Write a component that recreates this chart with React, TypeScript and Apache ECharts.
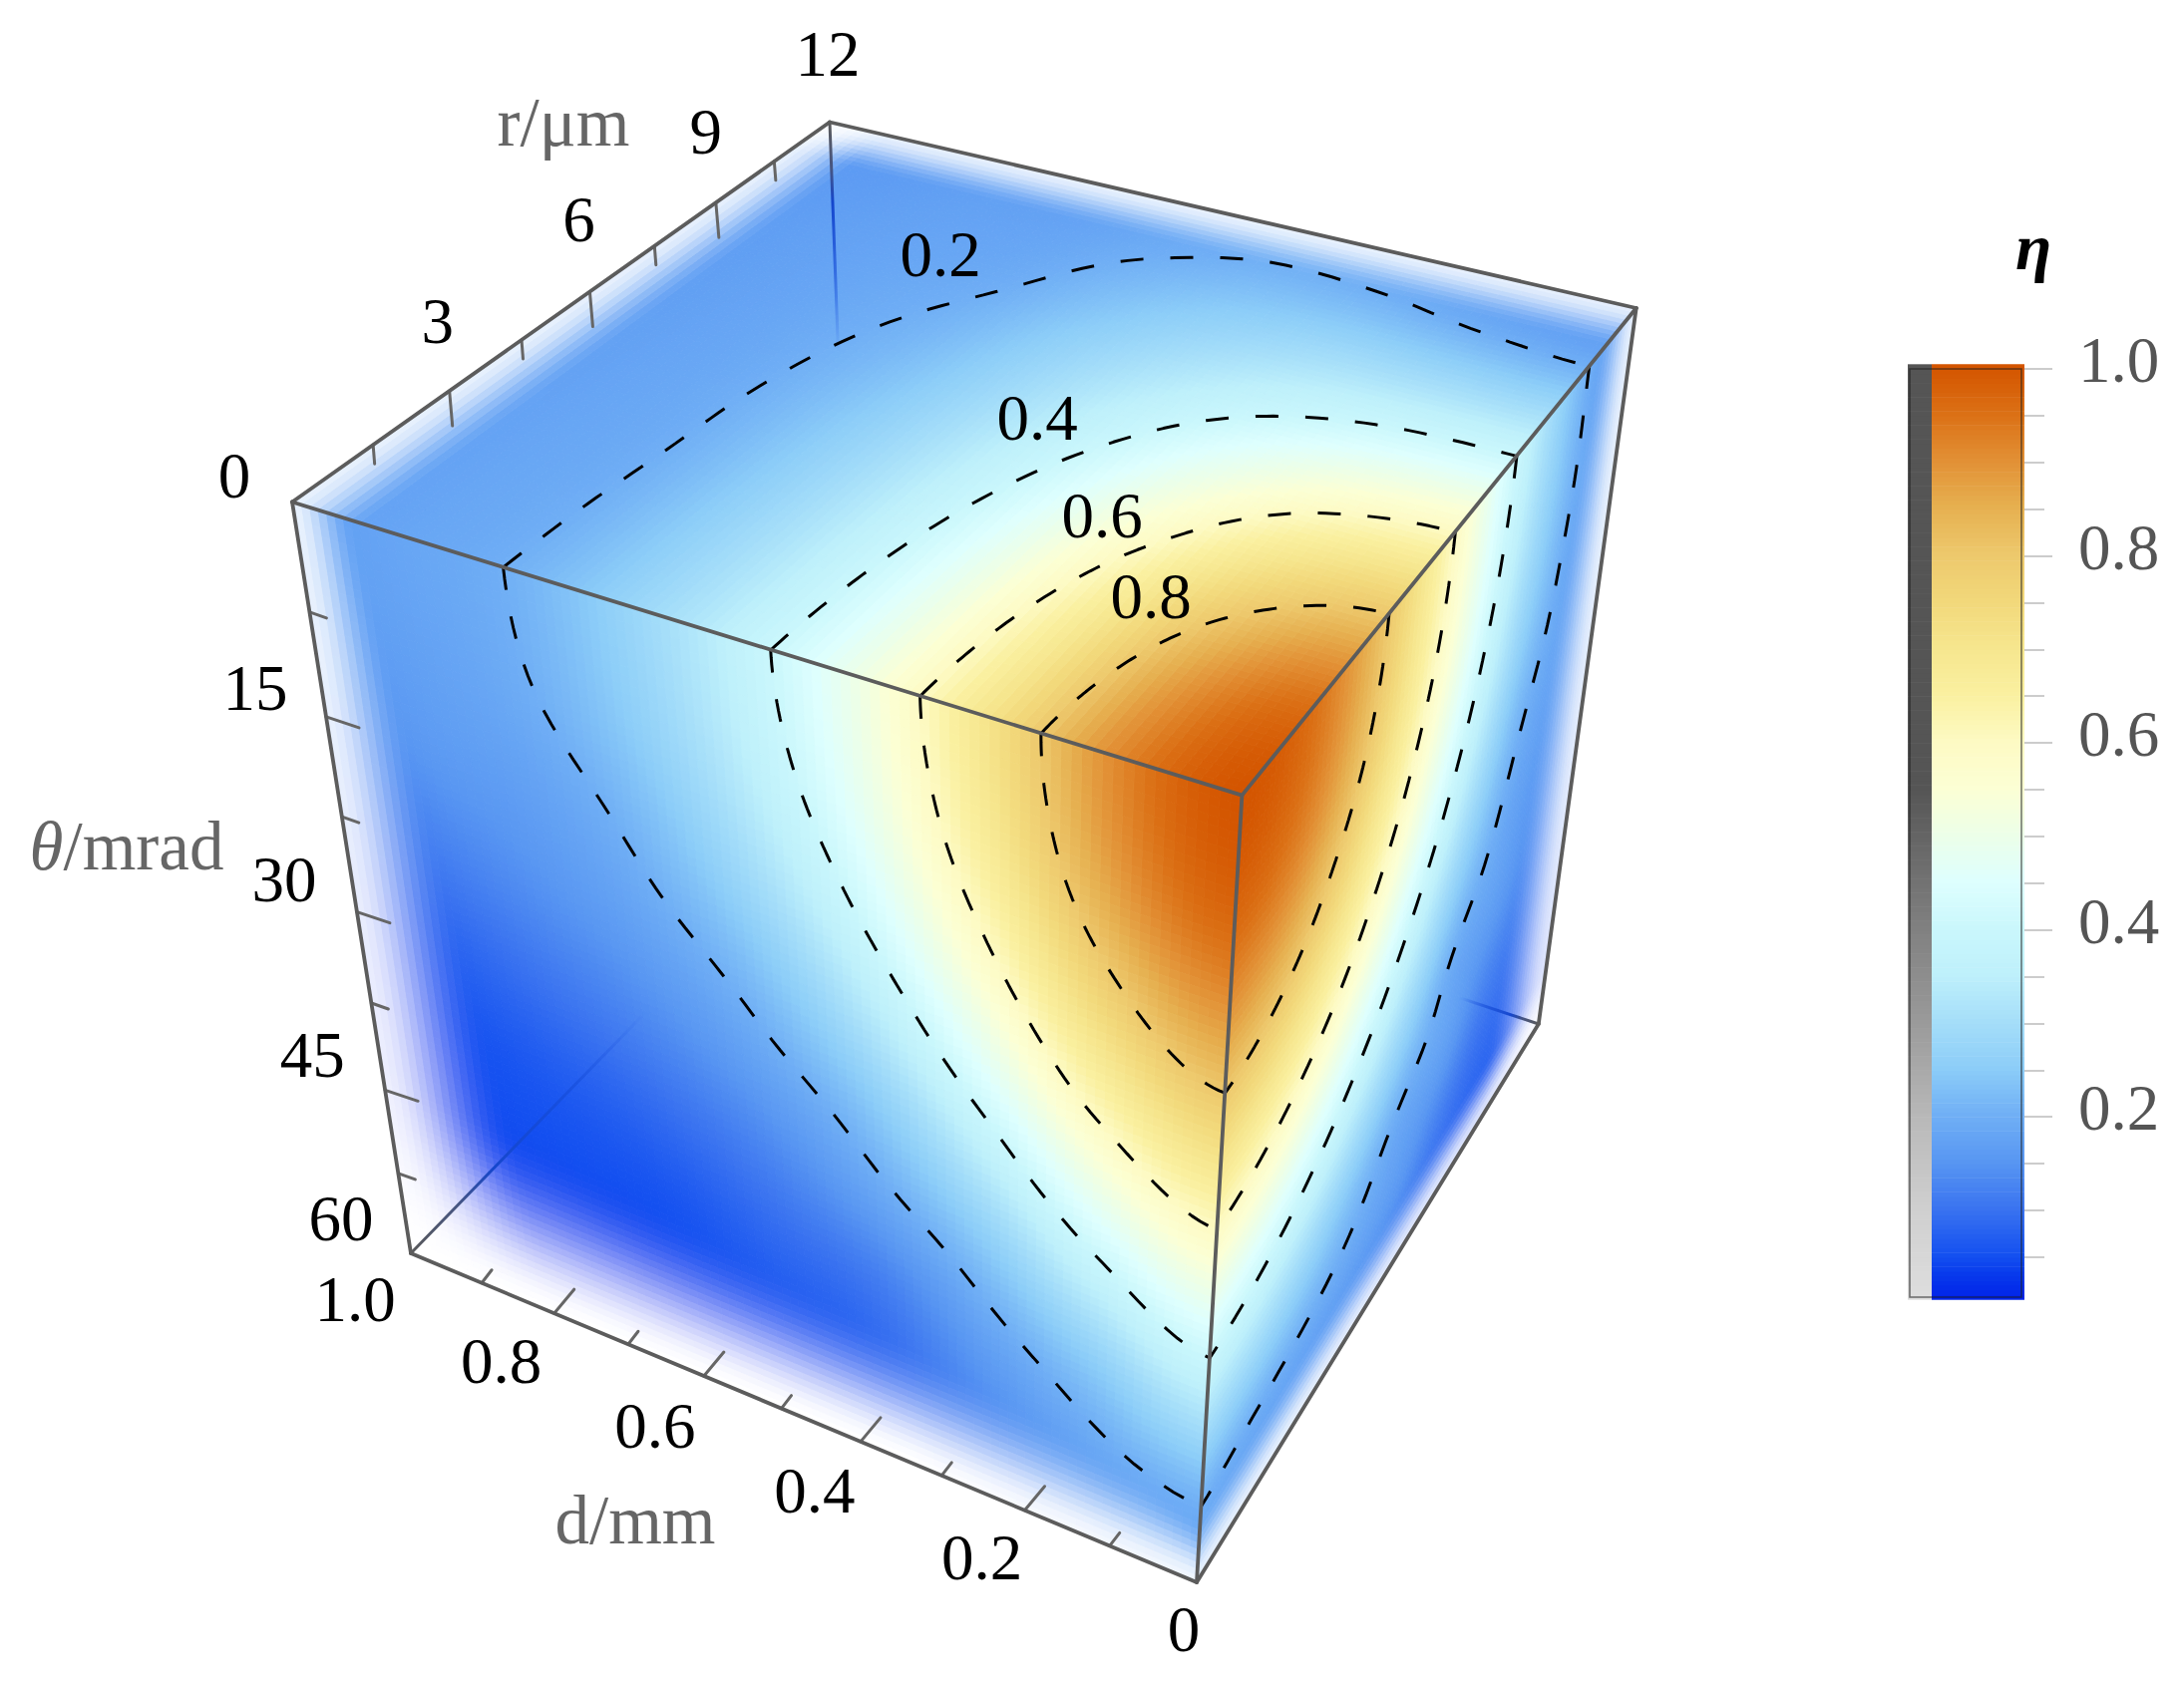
import React, { useEffect, useRef } from "react";
import * as echarts from "echarts";

type P = [number, number];

// ---- Cube corners on the picture plane (layout of the projected box)
const cornerFront: P = [1245.4, 797.6];   // d=0, r=0, θ=0
const cornerLeft: P = [293, 503.5];       // d=1, r=0, θ=0
const cornerRight: P = [1640.7, 309];     // d=0, r=12, θ=0
const cornerBack: P = [832, 122.5];       // d=1, r=12, θ=0
const cornerBotFront: P = [1200, 1587];   // d=0, r=0, θ=60
const cornerBotLeft: P = [412, 1257];     // d=1, r=0, θ=60
const cornerBotRight: P = [1542.8, 1027]; // d=0, r=12, θ=60
const cornerHidden: P = [857, 800];       // d=1, r=12, θ=60

// ---- η read off the picture on each visible face, on a 9x9 lattice of
// the face's normalised axes
// top face θ=0: rows d = 0 … 1, columns r = 0 … 12
const etaTop = [
  [1.0, 0.966, 0.871, 0.732, 0.574, 0.42, 0.287, 0.186, 0.145],
  [0.901, 0.873, 0.795, 0.68, 0.547, 0.413, 0.293, 0.197, 0.15],
  [0.694, 0.677, 0.63, 0.559, 0.472, 0.38, 0.292, 0.213, 0.162],
  [0.502, 0.493, 0.468, 0.429, 0.38, 0.325, 0.268, 0.214, 0.172],
  [0.362, 0.357, 0.344, 0.323, 0.296, 0.265, 0.23, 0.197, 0.172],
  [0.266, 0.264, 0.256, 0.245, 0.229, 0.211, 0.192, 0.178, 0.165],
  [0.201, 0.2, 0.197, 0.195, 0.191, 0.186, 0.18, 0.172, 0.16],
  [0.18, 0.18, 0.179, 0.177, 0.174, 0.171, 0.168, 0.162, 0.155],
  [0.166, 0.165, 0.165, 0.164, 0.162, 0.16, 0.158, 0.155, 0.15],
];
// left face r=0: rows d = 0 … 1, columns θ = 0 … 60
const etaLeft = [
  [1.0, 0.969, 0.88, 0.751, 0.6, 0.451, 0.317, 0.205, 0.165],
  [0.901, 0.869, 0.779, 0.651, 0.505, 0.365, 0.245, 0.178, 0.13],
  [0.694, 0.666, 0.59, 0.482, 0.363, 0.253, 0.178, 0.13, 0.09],
  [0.502, 0.48, 0.42, 0.335, 0.245, 0.178, 0.11, 0.08, 0.07],
  [0.362, 0.345, 0.298, 0.233, 0.178, 0.125, 0.082, 0.055, 0.05],
  [0.266, 0.252, 0.215, 0.178, 0.135, 0.09, 0.055, 0.045, 0.042],
  [0.201, 0.195, 0.172, 0.145, 0.105, 0.068, 0.048, 0.043, 0.04],
  [0.18, 0.172, 0.155, 0.118, 0.078, 0.052, 0.045, 0.042, 0.04],
  [0.166, 0.16, 0.125, 0.09, 0.062, 0.048, 0.043, 0.04, 0.04],
];
// right face d=0: rows r = 0 … 12, columns θ = 0 … 60
const etaRight = [
  [1.0, 0.969, 0.88, 0.751, 0.6, 0.451, 0.317, 0.205, 0.165],
  [0.966, 0.936, 0.85, 0.725, 0.58, 0.436, 0.306, 0.198, 0.16],
  [0.871, 0.844, 0.766, 0.654, 0.523, 0.393, 0.276, 0.19, 0.15],
  [0.732, 0.709, 0.644, 0.55, 0.439, 0.33, 0.232, 0.178, 0.125],
  [0.574, 0.556, 0.505, 0.431, 0.344, 0.259, 0.19, 0.158, 0.095],
  [0.42, 0.407, 0.37, 0.315, 0.252, 0.192, 0.17, 0.118, 0.082],
  [0.287, 0.278, 0.253, 0.216, 0.188, 0.168, 0.125, 0.09, 0.075],
  [0.186, 0.188, 0.18, 0.172, 0.155, 0.135, 0.108, 0.085, 0.07],
  [0.145, 0.155, 0.15, 0.14, 0.125, 0.11, 0.09, 0.07, 0.06],
];

const contourLevels = [0.2, 0.4, 0.6, 0.8];
const contourLabels = ["0.2", "0.4", "0.6", "0.8"];

// ---- Axis ticks
const rTicks = [1.5, 3, 4.5, 6, 7.5, 9, 10.5];
const rMajor = [3, 6, 9];
const rLabels = [3, 6, 9, 12];
const thetaTicks = [7.5, 15, 22.5, 30, 37.5, 45, 52.5];
const thetaMajor = [15, 30, 45];
const thetaLabels = [0, 15, 30, 45, 60];
const dTicks = [0.1, 0.2, 0.3, 0.4, 0.5, 0.6, 0.7, 0.8, 0.9];
const dMajor = [0.2, 0.4, 0.6, 0.8];
const dLabels = ["0", "0.2", "0.4", "0.6", "0.8", "1.0"];

// ---- Colour bar
const barMajor = [0.2, 0.4, 0.6, 0.8, 1.0];
const barMinor = [0.05, 0.1, 0.15, 0.25, 0.3, 0.35, 0.45, 0.5, 0.55, 0.65, 0.7, 0.75, 0.85, 0.9, 0.95];
const colorStops: [number, number[]][] = [
  [0.0, [0, 32, 232]],
  [0.03, [8, 58, 236]],
  [0.05, [20, 80, 240]],
  [0.1, [58, 115, 240]],
  [0.15, [88, 150, 242]],
  [0.2, [112, 175, 245]],
  [0.25, [140, 205, 248]],
  [0.3, [165, 222, 249]],
  [0.35, [190, 240, 251]],
  [0.4, [202, 247, 252]],
  [0.45, [222, 255, 254]],
  [0.5, [236, 255, 232]],
  [0.55, [252, 255, 212]],
  [0.6, [253, 250, 195]],
  [0.65, [250, 240, 160]],
  [0.7, [246, 230, 142]],
  [0.75, [242, 216, 122]],
  [0.8, [237, 200, 108]],
  [0.85, [230, 176, 80]],
  [0.9, [226, 144, 53]],
  [0.95, [219, 112, 21]],
  [1.0, [212, 85, 0]],
];
const alphaStops: [number, number][] = [
  [0.0, 222],
  [0.1, 207],
  [0.2, 184],
  [0.3, 154],
  [0.4, 128],
  [0.5, 100],
  [0.55, 85],
  [1.0, 85],
];

const SERIF = '"Liberation Serif", "Times New Roman", serif';
const CELLS = 100;

function homography(p00: P, p10: P, p01: P, p11: P) {
  const sx = p00[0] - p10[0] + p11[0] - p01[0];
  const sy = p00[1] - p10[1] + p11[1] - p01[1];
  const dx1 = p10[0] - p11[0];
  const dx2 = p01[0] - p11[0];
  const dy1 = p10[1] - p11[1];
  const dy2 = p01[1] - p11[1];
  const det = dx1 * dy2 - dx2 * dy1;
  const g = (sx * dy2 - dx2 * sy) / det;
  const h = (dx1 * sy - sx * dy1) / det;
  const a = p10[0] - p00[0] + g * p10[0];
  const b = p01[0] - p00[0] + h * p01[0];
  const d = p10[1] - p00[1] + g * p10[1];
  const e = p01[1] - p00[1] + h * p01[1];
  return (u: number, v: number): P => {
    const w = g * u + h * v + 1;
    return [(a * u + b * v + p00[0]) / w, (d * u + e * v + p00[1]) / w];
  };
}

const mapTop = homography(cornerFront, cornerLeft, cornerRight, cornerBack);
const mapLeft = homography(cornerFront, cornerLeft, cornerBotFront, cornerBotLeft);
const mapRight = homography(cornerFront, cornerRight, cornerBotFront, cornerBotRight);

function cell(t: number[][], i: number, j: number): number {
  const n = t.length - 1;
  // mirrored at the axis origin (the peak), extended linearly past the far end
  if (i < 0) i = -i;
  if (j < 0) j = -j;
  if (i > n) return 2 * cell(t, n, j) - cell(t, 2 * n - i, j);
  if (j > n) return 2 * cell(t, i, n) - cell(t, i, 2 * n - j);
  return t[i][j];
}
function cr(p0: number, p1: number, p2: number, p3: number, x: number) {
  return 0.5 * (2 * p1 + (p2 - p0) * x + (2 * p0 - 5 * p1 + 4 * p2 - p3) * x * x + (3 * p1 - p0 - 3 * p2 + p3) * x * x * x);
}
function sampleTable(t: number[][], a: number, b: number) {
  const n = t.length - 1;
  const fa = Math.min(a * n, n - 1e-9);
  const fb = Math.min(b * n, n - 1e-9);
  const i = Math.floor(fa);
  const j = Math.floor(fb);
  const rows = [-1, 0, 1, 2].map((di) =>
    cr(cell(t, i + di, j - 1), cell(t, i + di, j), cell(t, i + di, j + 1), cell(t, i + di, j + 2), fb - j)
  );
  return Math.max(0, Math.min(1, cr(rows[0], rows[1], rows[2], rows[3], fa - i)));
}

function colorOf(v: number): number[] {
  for (let k = 1; k < colorStops.length; k++) {
    if (v <= colorStops[k][0]) {
      const [v0, c0] = colorStops[k - 1];
      const [v1, c1] = colorStops[k];
      const f = (v - v0) / (v1 - v0);
      return c0.map((c, n) => c + (c1[n] - c) * f);
    }
  }
  return colorStops[colorStops.length - 1][1];
}
function grayOf(v: number) {
  for (let k = 1; k < alphaStops.length; k++) {
    if (v <= alphaStops[k][0]) {
      const [v0, c0] = alphaStops[k - 1];
      const [v1, c1] = alphaStops[k];
      return c0 + (c1 - c0) * ((v - v0) / (v1 - v0));
    }
  }
  return 85;
}
const rgb = (c: number[]) => `rgb(${Math.round(c[0])},${Math.round(c[1])},${Math.round(c[2])})`;
const smooth = (x: number) => {
  const t = Math.max(0, Math.min(1, x));
  return t * t * (3 - 2 * t);
};
// how far a far edge of a face washes out to white
const edgeFade = (dist: number, width: number, strength: number) => strength * (1 - smooth(dist / width));
const both = (f1: number, f2: number) => 1 - (1 - f1) * (1 - f2);
const fadeTop = (s: number, t: number) => both(edgeFade(1 - s, 0.09, 0.85), edgeFade(1 - t, 0.1, 0.85));
const fadeLeft = (s: number, u: number) =>
  both(
    edgeFade(1 - s, 0.07 + 0.14 * u, 0.85 + 0.1 * u),
    edgeFade(1 - u, 0.09 + 0.2 * Math.pow(s, 0.7), Math.min(1, 0.9 + 0.3 * s))
  );
const fadeRight = (t: number, u: number) => both(edgeFade(1 - t, 0.12 + 0.1 * u, 0.85), edgeFade(1 - u, 0.1, 0.85));

function faceSeries(table: number[][], map: (a: number, b: number) => P, fade: (a: number, b: number) => number) {
  const data: number[][] = [];
  for (let i = 0; i < CELLS; i++) {
    for (let j = 0; j < CELLS; j++) {
      const a = (i + 0.5) / CELLS;
      const b = (j + 0.5) / CELLS;
      data.push([a, b, sampleTable(table, a, b)]);
    }
  }
  const h = 0.5 / CELLS;
  return {
    type: "custom",
    coordinateSystem: "cartesian2d",
    xAxisIndex: 0,
    yAxisIndex: 0,
    silent: true,
    progressive: 0,
    z: 1,
    data,
    renderItem: (_: any, api: any) => {
      const a = api.value(0);
      const b = api.value(1);
      const eta = api.value(2);
      const f = fade(a, b);
      // deep blues wash out through periwinkle, lighter blues straight to white
      const fg = Math.pow(f, 1 + 0.3 * (1 - smooth(eta / 0.12)));
      const c = colorOf(eta);
      const col = rgb([c[0] + (255 - c[0]) * f, c[1] + (255 - c[1]) * fg, c[2] + (255 - c[2]) * f]);
      const points = [
        map(a - h, b - h),
        map(a + h, b - h),
        map(a + h, b + h),
        map(a - h, b + h),
      ].map((p) => api.coord(p));
      return { type: "polygon", shape: { points }, style: { fill: col, stroke: col, lineWidth: 0.9 } };
    },
  };
}

function contourSeries(table: number[][], map: (a: number, b: number) => P, level: number) {
  const data: P[] = [];
  const STEPS = 90;
  for (let k = 0; k <= STEPS; k++) {
    const ang = (k / STEPS) * (Math.PI / 2);
    const ca = Math.cos(ang);
    const sa = Math.sin(ang);
    const rhoMax = 1 / Math.max(ca, sa);
    let lo = 0;
    let hi = -1;
    const N = 120;
    for (let q = 1; q <= N; q++) {
      const rho = (q / N) * rhoMax;
      if (sampleTable(table, rho * ca, rho * sa) < level) {
        hi = rho;
        lo = ((q - 1) / N) * rhoMax;
        break;
      }
    }
    if (hi < 0) continue;
    for (let q = 0; q < 30; q++) {
      const m = (lo + hi) / 2;
      if (sampleTable(table, m * ca, m * sa) < level) hi = m;
      else lo = m;
    }
    data.push(map(lo * ca, lo * sa));
  }
  return {
    type: "line",
    xAxisIndex: 0,
    yAxisIndex: 0,
    silent: true,
    showSymbol: false,
    symbol: "none",
    z: 4,
    clip: false,
    lineStyle: { color: "#000", width: 3, type: [23, 27] },
    data,
  };
}

const lineStyleEdge = { stroke: "#5c5c5c", lineWidth: 3.8 };
const tickStyle = { stroke: "#666", lineWidth: 3 };

function linesSeries(segments: [P, P][], style: any, z: number) {
  return {
    type: "custom",
    coordinateSystem: "cartesian2d",
    xAxisIndex: 0,
    yAxisIndex: 0,
    silent: true,
    z,
    data: segments.map((s, i) => [s[0][0], s[0][1], s[1][0], s[1][1], i]),
    renderItem: (_: any, api: any) => {
      const p0 = api.coord([api.value(0), api.value(1)]);
      const p1 = api.coord([api.value(2), api.value(3)]);
      return {
        type: "line",
        shape: { x1: p0[0], y1: p0[1], x2: p1[0], y2: p1[1] },
        style: { ...style, lineCap: "round" },
      };
    },
  };
}

function hiddenEdge(from: P, reach: number) {
  const to: P = [from[0] + (cornerHidden[0] - from[0]) * reach, from[1] + (cornerHidden[1] - from[1]) * reach];
  const grad = new echarts.graphic.LinearGradient(
    from[0], from[1], to[0], to[1],
    [
      { offset: 0, color: "rgba(90,90,90,1)" },
      { offset: 0.2, color: "rgba(70,85,130,1)" },
      { offset: 0.35, color: "rgba(20,70,205,1)" },
      { offset: 0.7, color: "rgba(20,75,215,0.55)" },
      { offset: 1, color: "rgba(30,85,225,0)" },
    ],
    true
  );
  return linesSeries([[from, to]], { stroke: grad, lineWidth: 3 }, 2);
}

function buildOption() {
  const edges: [P, P][] = [
    [cornerLeft, cornerFront],
    [cornerFront, cornerRight],
    [cornerFront, cornerBotFront],
    [cornerLeft, cornerBack],
    [cornerBack, cornerRight],
    [cornerRight, cornerBotRight],
    [cornerBotRight, cornerBotFront],
    [cornerBotFront, cornerBotLeft],
    [cornerBotLeft, cornerLeft],
  ];
  const ticks: [P, P][] = [];
  const addTick = (base: P, major: boolean, mj: P, mn: P) => {
    const v = major ? mj : mn;
    ticks.push([base, [base[0] + v[0], base[1] + v[1]]]);
  };
  rTicks.forEach((r) => addTick(mapTop(1, r / 12), rMajor.includes(r), [3, 35], [1.5, 19]));
  thetaTicks.forEach((t) => addTick(mapLeft(1, t / 60), thetaMajor.includes(t), [33, 11], [17, 6]));
  dTicks.forEach((d) => addTick(mapLeft(d, 1), dMajor.includes(d), [20, -24], [10, -13]));

  const tickFont = { fontFamily: SERIF, fontSize: 65, fill: "#000" };
  const texts: any[] = [];
  const put = (p: P, off: P, text: string, style: any = tickFont) =>
    texts.push({
      type: "text",
      x: p[0] + off[0],
      y: p[1] + off[1] - 3,
      silent: true,
      z: 10,
      style: { text, textAlign: "center", textVerticalAlign: "middle", ...style },
    });
  const rOff: P[] = [[-12, -67], [-11, -70], [-10, -68], [-2, -66]];
  rLabels.forEach((r, i) => put(mapTop(1, r / 12), rOff[i], String(r)));
  const tOff: P[] = [[-58, -24], [-71, -26], [-73, -30], [-73, -32], [-70, -32]];
  thetaLabels.forEach((t, i) => put(mapLeft(1, t / 60), tOff[i], String(t)));
  const dOff: P[] = [[-13, 50], [-43, 50], [-46, 52], [-49, 53], [-53, 51], [-56, 49]];
  dLabels.forEach((d, i) => put(mapLeft(Number(d), 1), dOff[i], d));

  const clPos: P[] = [[943, 258], [1040, 422], [1105, 520], [1154, 600.6]];
  contourLabels.forEach((c, i) => put(clPos[i], [0, 0], c));

  const titleStyle = { fontFamily: SERIF, fontSize: 69, fill: "#666" };
  put([565, 126], [0, 0], "r/μm", titleStyle);
  put([637, 1528], [0, 0], "d/mm", titleStyle);
  put([127, 852], [0, 0], "{i|θ}/mrad", {
    ...titleStyle,
    rich: { i: { fontFamily: SERIF, fontSize: 69, fontStyle: "italic", fill: "#666" } },
  });
  put([2039, 250], [0, 0], "η", { fontFamily: SERIF, fontSize: 66, fontStyle: "italic", fontWeight: "bold", fill: "#000" });

  const barValues: number[] = [];
  for (let v = 0.005; v < 1.004; v += 0.005) barValues.push(v);
  const barStep = 0.005;

  const barSeries = (x0: number, x1: number, color: (v: number) => string) => ({
    type: "custom",
    coordinateSystem: "cartesian2d",
    xAxisIndex: 1,
    yAxisIndex: 2,
    silent: true,
    z: 1,
    clip: false,
    data: barValues.map((v) => [v]),
    encode: { y: 0 },
    renderItem: (_: any, api: any) => {
      const v = api.value(0);
      const a = api.coord([x0, v + barStep]);
      const b = api.coord([x1, v]);
      const col = color(v);
      return {
        type: "rect",
        shape: { x: a[0], y: a[1], width: b[0] - a[0], height: b[1] - a[1] + 0.6 },
        style: { fill: col },
      };
    },
  });

  const barTop = 1;
  const barBottom = 0.0072;
  const frameSeries = {
    type: "custom",
    coordinateSystem: "cartesian2d",
    xAxisIndex: 1,
    yAxisIndex: 2,
    silent: true,
    z: 3,
    clip: false,
    data: [[barBottom]],
    encode: { y: 0 },
    renderItem: (_: any, api: any) => {
      const a = api.coord([1915, barTop]);
      const b = api.coord([2027, barBottom]);
      return {
        type: "rect",
        shape: { x: a[0], y: a[1], width: b[0] - a[0], height: b[1] - a[1] },
        style: { fill: "none", stroke: "rgba(30,30,30,0.6)", lineWidth: 1.6 },
      };
    },
  };

  const barAxisBase = {
    type: "value",
    gridIndex: 1,
    position: "right",
    min: barBottom,
    max: barTop,
    offset: 0,
    axisLine: { show: false },
    splitLine: { show: false },
  };

  return {
    animation: false,
    backgroundColor: "#fff",
    grid: [
      { left: 0, top: 0, width: 2190, height: 1692, containLabel: false },
      { left: 1915, top: 370, width: 112, height: 931, containLabel: false },
    ],
    xAxis: [
      { type: "value", gridIndex: 0, min: 0, max: 2190, show: false },
      { type: "value", gridIndex: 1, min: 1915, max: 2027, show: false },
    ],
    yAxis: [
      { type: "value", gridIndex: 0, min: 0, max: 1692, inverse: true, show: false },
      { ...barAxisBase, axisTick: { show: true, length: 23, lineStyle: { color: "#ccc", width: 2 }, customValues: barMinor }, axisLabel: { show: false } },
      {
        ...barAxisBase,
        axisTick: { show: true, length: 31, lineStyle: { color: "#ccc", width: 2 }, customValues: barMajor },
        axisLabel: {
          show: true,
          customValues: barMajor,
          formatter: (v: number) => v.toFixed(1),
          fontFamily: SERIF,
          fontSize: 65,
          color: "#555",
          margin: 57,
          verticalAlign: "bottom",
          lineHeight: 18,
        },
      },
    ],
    graphic: { elements: texts },
    series: [
      faceSeries(etaTop, mapTop, fadeTop),
      faceSeries(etaLeft, mapLeft, fadeLeft),
      faceSeries(etaRight, mapRight, fadeRight),
      hiddenEdge(cornerBack, 0.34),
      hiddenEdge(cornerBotLeft, 0.53),
      hiddenEdge(cornerBotRight, 0.116),
      ...contourLevels.map((l) => contourSeries(etaTop, mapTop, l)),
      ...contourLevels.map((l) => contourSeries(etaLeft, mapLeft, l)),
      ...contourLevels.map((l) => contourSeries(etaRight, mapRight, l)),
      linesSeries(ticks, tickStyle, 5),
      linesSeries(edges, lineStyleEdge, 6),
      barSeries(1913, 1937, (v) => { const g = Math.round(grayOf(v)); return `rgb(${g},${g},${g})`; }),
      barSeries(1937, 2030, (v) => rgb(colorOf(v))),
      frameSeries,
    ],
  };
}

export default function App() {
  const ref = useRef<HTMLDivElement>(null);
  useEffect(() => {
    if (!ref.current) return;
    const chart = echarts.init(ref.current, undefined, { renderer: "svg" });
    chart.setOption(buildOption() as any);
    return () => chart.dispose();
  }, []);
  return <div ref={ref} style={{ position: "absolute", left: 0, top: 0, width: 2190, height: 1692 }} />;
}
